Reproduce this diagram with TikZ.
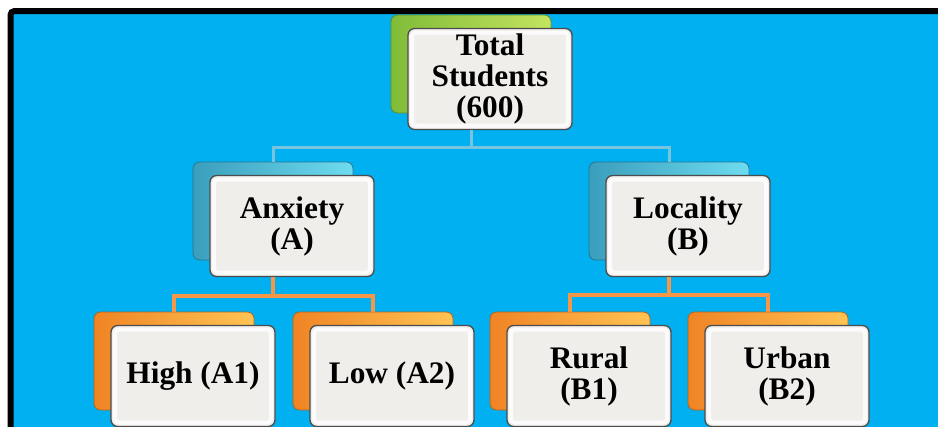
\documentclass[tikz,border=0pt]{standalone}
\usepackage{fontspec}
\setmainfont{Liberation Serif}
\usetikzlibrary{positioning}

\definecolor{skyblue}{RGB}{0,176,240}
\definecolor{greenA}{RGB}{128,188,56}
\definecolor{greenB}{RGB}{196,228,96}
\definecolor{tealA}{RGB}{58,158,188}
\definecolor{tealB}{RGB}{110,220,240}
\definecolor{orangeA}{RGB}{240,132,36}
\definecolor{orangeB}{RGB}{255,196,84}
\definecolor{boxgray}{RGB}{240,238,235}
\definecolor{linkblue}{RGB}{120,196,222}
\definecolor{linkorange}{RGB}{247,150,70}

\begin{document}
\begin{tikzpicture}[x=0.75pt, y=-0.75pt,
  backbox/.style={rounded corners=5pt, minimum width=120pt, minimum height=73.5pt, line width=0.6pt},
  greenback/.style={backbox, draw=greenA!75!black, left color=greenA, right color=greenB},
  tealback/.style={backbox, draw=tealA!75!black, left color=tealA, right color=tealB},
  orangeback/.style={backbox, draw=orangeA!75!black, left color=orangeA, right color=orangeB},
  frontbox/.style={rounded corners=5pt, minimum width=123pt, minimum height=75.75pt,
    inner sep=0pt, draw=black!70, line width=1pt, fill=boxgray, align=center,
    font=\bfseries\fontsize{23.5}{23.3}\selectfont,
    path picture={\draw[white, opacity=0.8, line width=3pt, rounded corners=3pt]
      ([shift={(3pt,-3pt)}]path picture bounding box.north west) rectangle
      ([shift={(-3pt,3pt)}]path picture bounding box.south east);}},
  bluelink/.style={draw=linkblue, line width=2.25pt},
  orangelink/.style={draw=linkorange, line width=3pt}]

% page and frame
\fill[white] (0,0) rectangle (938,426);
\clip (0,0) rectangle (938,426);
\draw[line width=4.5pt, fill=skyblue, rounded corners=3pt] (10.5,11) rectangle (960,450);

% top
\node[greenback] (tsback) at (471,64) {};
\node[frontbox] (ts) at ([shift={(19,15)}]tsback) {Total\\Students\\(600)};

% second level
\node[tealback] (anxback) at (273,211) {};
\node[frontbox] (anx) at ([shift={(19,15)}]anxback) {Anxiety\\(A)};
\node[tealback] (locback) at (669,211) {};
\node[frontbox] (loc) at ([shift={(19,15)}]locback) {Locality\\(B)};

% leaves
\foreach \nm/\px/\txt in {high/174/High (A1), low/373/Low (A2), rural/570/Rural\\(B1), urban/768/Urban\\(B2)} {
  \node[orangeback] (\nm-back) at (\px,361) {};
  \node[frontbox] (\nm) at ([shift={(19,15)}]\nm-back) {\txt};
}

% links
\draw[bluelink] (tsback |- ts.south) -- ++(0,17) -| (anxback.north);
\draw[bluelink] (tsback |- ts.south) -- ++(0,17) -| (locback.north);
\draw[orangelink] (anxback |- anx.south) -- ++(0,19) -| (high-back.north);
\draw[orangelink] (anxback |- anx.south) -- ++(0,19) -| (low-back.north);
\draw[orangelink] (locback |- loc.south) -- ++(0,18) -| (rural-back.north);
\draw[orangelink] (locback |- loc.south) -- ++(0,18) -| (urban-back.north);

\end{tikzpicture}
\end{document}
